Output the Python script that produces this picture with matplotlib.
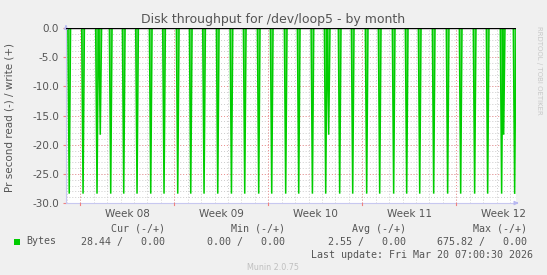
import numpy as np
import matplotlib
matplotlib.use("Agg")
import matplotlib.pyplot as plt
from matplotlib.patches import Rectangle
from matplotlib.transforms import blended_transform_factory

W, H = 547, 275

# days relative to Monday of week 08 (x axis runs until last update)
spike_days = [-0.82, 0.21, 1.25, 1.49, 2.27, 3.24, 4.23, 5.25, 6.24, 7.26, 8.23,
              9.22, 10.24, 11.26, 12.25, 13.29, 14.26, 15.30, 16.27, 17.29, 18.28,
              18.50, 19.32, 20.29, 21.33, 22.30, 23.34, 24.31, 25.28, 26.32, 27.36,
              28.33, 29.37, 30.34, 31.38, 31.53, 32.35]
spike_read = [-28.4, -28.4, -28.4, -18.3, -28.4, -28.4, -28.4, -28.4, -28.4, -28.4,
              -28.4, -28.4, -28.4, -28.4, -28.4, -28.4, -28.4, -28.4, -28.4, -28.4,
              -28.4, -18.3, -28.4, -28.4, -28.4, -28.4, -28.4, -28.4, -28.4, -28.4,
              -28.4, -28.4, -28.4, -28.4, -28.4, -18.3, -28.44]
week_labels = ["Week 08", "Week 09", "Week 10", "Week 11", "Week 12"]
week_starts = [0, 7, 14, 21, 28]
y_ticks = [0.0, -5.0, -10.0, -15.0, -20.0, -25.0, -30.0]

cur = (28.44, 0.00)
vmin = (0.00, 0.00)
avg = (2.55, 0.00)
vmax = (675.82, 0.00)
last_update = "Last update: Fri Mar 20 07:00:30 2026"

x_left, x_right = -1.06, 32.45

txt = "#555555"
mono = "DejaVu Sans Mono"


def fx(x):
    return x / W


def fy(y):
    return 1 - y / H


fig = plt.figure(figsize=(W / 100, H / 100), dpi=100)
fig.patch.set_facecolor("#F0F0F0")
ax = fig.add_axes([fx(66), fy(203), 450 / W, 175 / H])
ax.set_facecolor("white")
ax.set_xlim(x_left, x_right)
ax.set_ylim(-30, 0)

# grids
for d in np.arange(-1, 33):
    ax.axvline(d, color="#CCCCCC", lw=0.7, ls=(0, (1, 2)), zorder=1)
for v in np.arange(-29, 0):
    ax.axhline(v, color="#CCCCCC", lw=0.7, ls=(0, (1, 2)), zorder=1)
for d in week_starts:
    ax.axvline(d, color="#F09090", lw=0.7, ls=(0, (1, 2)), zorder=1.5)
for v in y_ticks[1:-1]:
    ax.axhline(v, color="#F09090", lw=0.7, ls=(0, (1, 2)), zorder=1.5)

# read spikes (negative)
w = 0.1
xs, ys = [], []
for t, d in zip(spike_days, spike_read):
    xs += [t - w, t, t + w, np.nan]
    ys += [0, d, 0, np.nan]
ax.fill(xs, ys, color="#66DD66", lw=0, zorder=2.5)
ax.plot(xs, ys, color="#00CC00", lw=1.1, zorder=3, solid_joinstyle="miter")
ax.axhline(0, color="black", lw=1.0, zorder=4)

for s in ax.spines.values():
    s.set_visible(False)
ax.plot([x_left, x_right], [-30, -30], color="#C8C8F0", lw=0.8, clip_on=False, zorder=2)
ax.plot([x_left, x_left], [-30, 0], color="#C8C8F0", lw=0.8, clip_on=False, zorder=2)
ax.annotate("", xy=(1.012, 0), xytext=(0.995, 0), xycoords="axes fraction",
            arrowprops=dict(arrowstyle="-|>", color="#B8B8F0", lw=0.8, mutation_scale=6))
ax.annotate("", xy=(0, 1.035), xytext=(0, 0.99), xycoords="axes fraction",
            arrowprops=dict(arrowstyle="-|>", color="#B8B8F0", lw=0.8, mutation_scale=6))

ax.set_yticks(y_ticks)
ax.set_yticklabels([f"{v:.1f}" for v in y_ticks], fontsize=7.5, color=txt)
ax.tick_params(axis="y", length=2, color="#F08080", pad=3)
ax.set_xticks([d + 3.5 for d in week_starts])
ax.set_xticklabels(week_labels, fontsize=7.5, color=txt)
ax.tick_params(axis="x", length=0, pad=4)
trans = blended_transform_factory(ax.transData, ax.transAxes)
for d in week_starts:
    ax.plot([d, d], [-0.012, 0.0], color="#F08080", lw=0.8, transform=trans, clip_on=False)

fig.text(fx(10), fy(118), "Pr second read (-) / write (+)", rotation=90,
         ha="center", va="center", fontsize=7.5, color=txt)
fig.text(fx(273), fy(19), "Disk throughput for /dev/loop5 - by month",
         ha="center", va="center", fontsize=9, color=txt)
fig.text(fx(539), fy(70), "RRDTOOL / TOBI OETIKER", rotation=-90,
         ha="center", va="center", fontsize=5, color="#C8C8C8")

# legend block
heads = ["Cur (-/+)", "Min (-/+)", "Avg (-/+)", "Max (-/+)"]
vals = [cur, vmin, avg, vmax]
rights = [165, 285, 406, 527]
for h, v, r in zip(heads, vals, rights):
    fig.text(fx(r), fy(228.5), h, ha="right", va="center", fontsize=7.2,
             family=mono, color=txt)
    fig.text(fx(r), fy(241.5), f"{v[0]:.2f} / {v[1]:6.2f}", ha="right", va="center",
             fontsize=7.2, family=mono, color=txt)
fig.patches.append(Rectangle((fx(14), fy(244.5)), 5.5 / W, 5.5 / H, transform=fig.transFigure,
                             facecolor="#00CC00", edgecolor="none"))
fig.text(fx(26), fy(241.5), "Bytes", ha="left", va="center", fontsize=7.2,
         family=mono, color=txt)
fig.text(fx(533), fy(254.5), last_update, ha="right", va="center", fontsize=7.2,
         family=mono, color=txt)
fig.text(fx(273), fy(267), "Munin 2.0.75", ha="center", va="center", fontsize=5.8,
         color="#C0C0C0")

fig.savefig("out.png", dpi=100, facecolor=fig.get_facecolor())
